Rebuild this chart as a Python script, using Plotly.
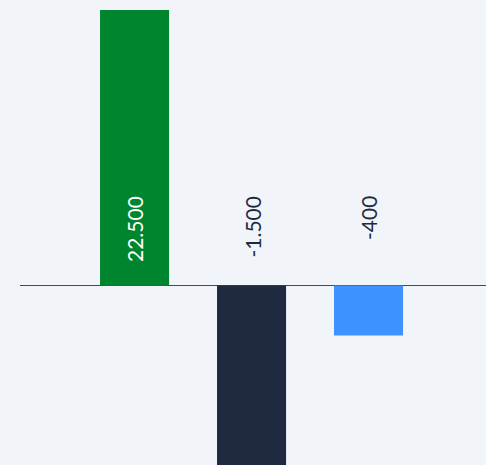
import plotly.graph_objects as go

categories = ["A", "B", "C"]
values = [22500, -1500, -400]
labels = ["22.500", "-1.500", "-400"]
bar_colors = ["#00852F", "#1F2A40", "#3D92FF"]
label_colors = ["#FFFFFF", "#1F2A40", "#1F2A40"]

fig = go.Figure()
fig.add_trace(go.Bar(
    x=categories, y=values, marker=dict(color=bar_colors, line=dict(width=0)),
    width=0.59, hoverinfo="skip",
))

for c, lab, col in zip(categories, labels, label_colors):
    fig.add_annotation(
        x=c, y=0, text=lab, textangle=-90, showarrow=False,
        xanchor="center", yanchor="top", yshift=91,
        font=dict(family="Lato", size=21, color=col),
    )

fig.update_layout(
    width=486, height=465,
    margin=dict(l=20, r=0, t=10, b=0),
    paper_bgcolor="#F1F4F9", plot_bgcolor="#F1F4F9",
    showlegend=False,
    xaxis=dict(type="category", range=[-0.979, 3.004], showticklabels=False,
               showgrid=False, zeroline=False, showline=False, ticks=""),
    yaxis=dict(range=[-1436, 2204], showticklabels=False, showgrid=False,
               zeroline=True, zerolinecolor="#3F4A5E", zerolinewidth=1,
               showline=False, ticks=""),
)
fig.write_html(
    "out.html",
    config={"displayModeBar": False},
    post_script="document.body.style.margin='0';document.body.style.background='#F1F4F9';",
)
